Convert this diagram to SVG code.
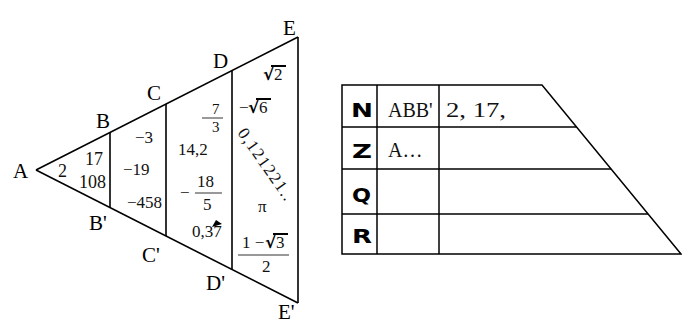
<svg xmlns="http://www.w3.org/2000/svg" width="682" height="325" viewBox="0 0 682 325">
<style>
.ln{stroke:#000;stroke-width:1.6;fill:none}
.tl{stroke:#000;stroke-width:1.5;fill:none}
.v{font-family:"Liberation Serif",serif;font-size:21px;fill:#000}
.n{font-family:"Liberation Serif",serif;font-size:18px;fill:#111}
.s{font-family:"Liberation Serif",serif;font-size:17px;fill:#111}
.f{font-family:"Liberation Serif",serif;font-size:15px;fill:#111}
.r{font-family:"DejaVu Sans",sans-serif;font-weight:bold;font-size:17px;fill:#000}
.t{font-family:"Liberation Serif",serif;font-size:20px;fill:#111}
.b{font-family:"DejaVu Sans",sans-serif;font-weight:bold;font-size:19px;fill:#000}
</style>
<g id="connectors">
<line class="ln" x1="36" y1="170" x2="298" y2="37"/>
<line class="ln" x1="36" y1="170" x2="298" y2="303"/>
<line class="ln" x1="110" y1="132.5" x2="110" y2="207.5"/>
<line class="ln" x1="166" y1="104" x2="166" y2="236"/>
<line class="ln" x1="232" y1="70.5" x2="232" y2="269.5"/>
<line class="ln" x1="298" y1="37" x2="298" y2="303"/>
</g>
<g id="vertex-labels">
<text class="v" x="13" y="178">A</text>
<text class="v" x="96" y="128">B</text>
<text class="v" x="89" y="230">B'</text>
<text class="v" x="147" y="100">C</text>
<text class="v" x="142" y="262">C'</text>
<text class="v" x="213" y="68">D</text>
<text class="v" x="206" y="290">D'</text>
<text class="v" x="283" y="35">E</text>
<text class="v" x="278" y="319" font-size="20">E'</text>
</g>
<g id="region-AB">
<text class="n" x="58" y="177">2</text>
<text class="n" x="85" y="165">17</text>
<text class="n" x="79" y="188">108</text>
</g>
<g id="region-BC">
<text class="s" x="135" y="143">−3</text>
<text class="s" x="123" y="175">−19</text>
<text class="s" x="127" y="208">−458</text>
</g>
<g id="region-CD">
<text class="f" x="212" y="114">7</text>
<line x1="202" y1="118" x2="223" y2="118" stroke="#333" stroke-width="1"/>
<text class="f" x="212" y="132">3</text>
<text class="s" x="178" y="155">14,2</text>
<text class="s" x="180" y="198">−</text>
<text class="s" x="197" y="187">18</text>
<line x1="195" y1="193" x2="222" y2="193" stroke="#333" stroke-width="1"/>
<text class="s" x="203" y="210">5</text>
<text class="s" x="192" y="237">0,37</text>
<path d="M212,227 L216,220 L222,224 Z" fill="#000"/>
</g>
<g id="region-DE">
<text class="r" x="263" y="80">√</text>
<text class="s" x="274" y="80">2</text>
<line x1="271" y1="66" x2="286" y2="66" stroke="#000" stroke-width="2"/>
<text class="s" x="239" y="113">−</text>
<text class="r" x="248" y="113">√</text>
<text class="s" x="259" y="113">6</text>
<line x1="256" y1="99" x2="271" y2="99" stroke="#000" stroke-width="2"/>
<text class="s" x="0" y="0" font-size="15" transform="translate(237,133) rotate(55)" textLength="84" lengthAdjust="spacing">0,121221..</text>
<text class="s" x="258" y="212" font-size="12">π</text>
<text class="s" x="242" y="248">1 −</text>
<text class="r" x="265" y="248">√</text>
<text class="s" x="276" y="248">3</text>
<line x1="273" y1="234" x2="288" y2="234" stroke="#000" stroke-width="2"/>
<line x1="238" y1="255" x2="289" y2="255" stroke="#333" stroke-width="1"/>
<text class="s" x="262" y="272">2</text>
</g>
<g id="table">
<path class="tl" d="M342,85 L542,85 L681,254 L342,254 Z"/>
<line class="tl" x1="342" y1="127" x2="576.5" y2="127"/>
<line class="tl" x1="342" y1="169" x2="611" y2="169"/>
<line class="tl" x1="342" y1="214" x2="648" y2="214"/>
<line class="tl" x1="377" y1="85" x2="377" y2="254"/>
<line class="tl" x1="439" y1="85" x2="439" y2="254"/>
</g>
<g id="row-N">
<text class="b" x="351" y="117" textLength="22" lengthAdjust="spacingAndGlyphs">N</text>
<text class="t" x="388" y="117">ABB'</text>
<text class="t" x="446" y="117" textLength="60" lengthAdjust="spacingAndGlyphs">2, 17,</text>
</g>
<g id="row-Z">
<text class="b" x="352" y="158" textLength="20" lengthAdjust="spacingAndGlyphs">Z</text>
<text class="t" x="388" y="157">A…</text>
</g>
<g id="row-Q">
<text class="b" x="352" y="202" textLength="19" lengthAdjust="spacingAndGlyphs">Q</text>
</g>
<g id="row-R">
<text class="b" x="352" y="243" textLength="20" lengthAdjust="spacingAndGlyphs">R</text>
</g>
</svg>
